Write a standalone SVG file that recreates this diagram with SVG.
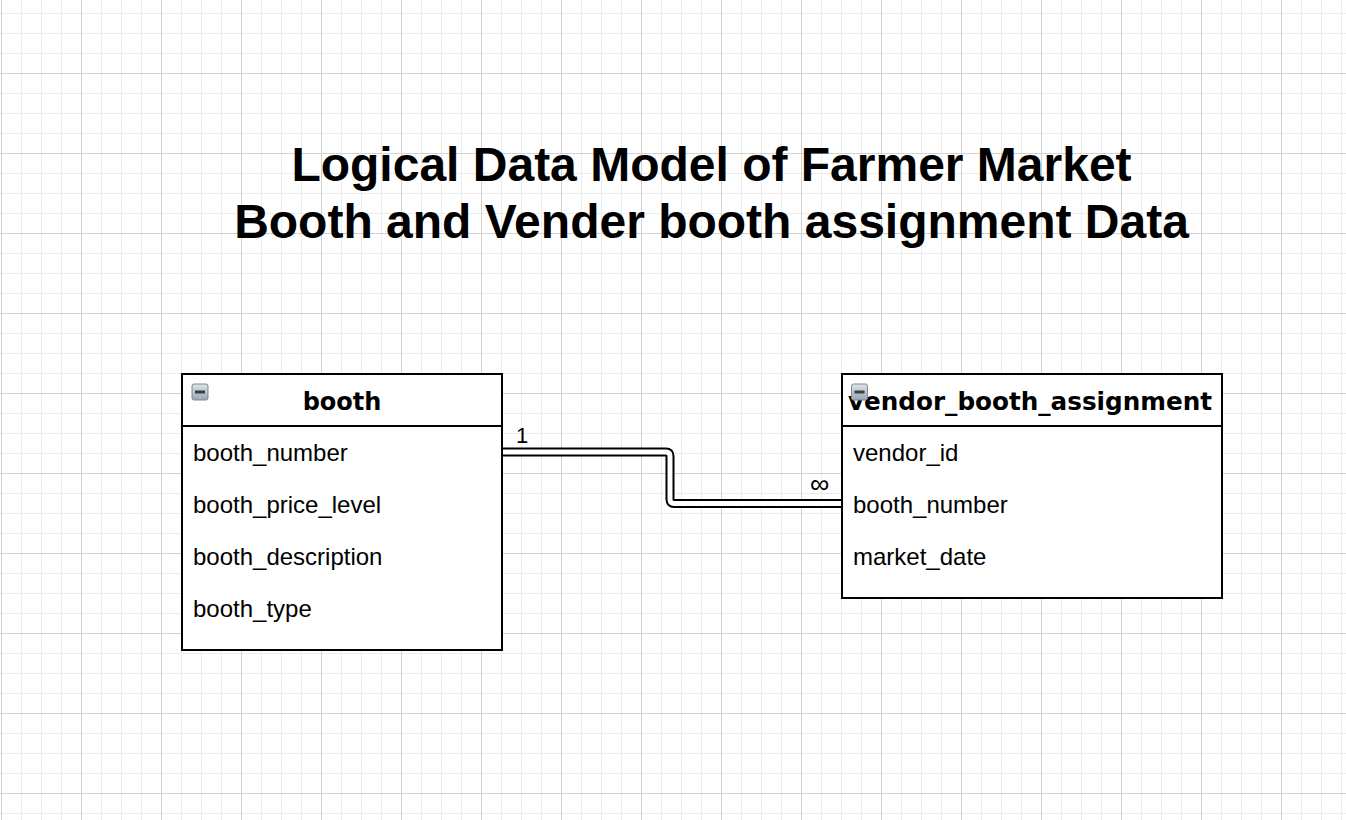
<svg xmlns="http://www.w3.org/2000/svg" width="1346" height="820" viewBox="0 0 1346 820">
<style>
.title{font-family:"Liberation Sans",Arial,sans-serif;font-weight:bold;font-size:48px;fill:#000;text-anchor:middle}
.hdr{font-family:"DejaVu Sans",Verdana,sans-serif;font-weight:bold;font-size:24px;fill:#000;text-anchor:middle}
.fld{font-family:"Liberation Sans",Arial,sans-serif;font-size:24px;fill:#000}
.lbl{font-family:"Liberation Sans",Arial,sans-serif;font-size:22px;fill:#000}
.box{fill:#fff;stroke:#000;stroke-width:2}
.sep{stroke:#000;stroke-width:2}
</style>
<defs>
<pattern id="grid" patternUnits="userSpaceOnUse" x="1" y="-7" width="80" height="80">
<rect x="0" y="20" width="80" height="1" fill="#ececec"/>
<rect x="0" y="40" width="80" height="1" fill="#ececec"/>
<rect x="0" y="60" width="80" height="1" fill="#ececec"/>
<rect x="20" y="0" width="1" height="80" fill="#ececec"/>
<rect x="40" y="0" width="1" height="80" fill="#ececec"/>
<rect x="60" y="0" width="1" height="80" fill="#ececec"/>
<rect x="0" y="0" width="80" height="1" fill="#d2d2d2"/>
<rect x="0" y="0" width="1" height="80" fill="#d2d2d2"/>
</pattern>
<linearGradient id="ig" x1="0" y1="0" x2="0" y2="1">
<stop offset="0" stop-color="#dfe4ea"/>
<stop offset="1" stop-color="#9aa6b3"/>
</linearGradient>
<g id="icon">
<rect x="0.5" y="0.5" width="16" height="16" rx="2" fill="url(#ig)" stroke="#7d8894" stroke-width="1"/>
<rect x="3.5" y="7" width="10" height="3" fill="#3a3f46"/>
</g>
</defs>
<rect width="1346" height="820" fill="#fff"/>
<rect width="1346" height="820" fill="url(#grid)"/>

<g id="title">
<text class="title" x="711.5" y="181">Logical Data Model of Farmer Market</text>
<text class="title" x="711.5" y="238">Booth and Vender booth assignment Data</text>
</g>

<g id="connectors">
<path d="M502 452 H666 Q670 452 670 456 V499.5 Q670 503.5 674 503.5 H842" fill="none" stroke="#000" stroke-width="9"/>
<path d="M502 452 H666 Q670 452 670 456 V499.5 Q670 503.5 674 503.5 H843" fill="none" stroke="#fff" stroke-width="5"/>
<text class="lbl" x="516" y="443">1</text>
<text class="lbl" x="810" y="493" style="font-size:27px">∞</text>
</g>

<g id="booth">
<rect class="box" x="182" y="374" width="320" height="276"/>
<line class="sep" x1="182" y1="426" x2="502" y2="426"/>
<use href="#icon" x="191.5" y="383.5"/>
<text class="hdr" x="342" y="410">booth</text>
<text class="fld" x="193" y="461">booth_number</text>
<text class="fld" x="193" y="513">booth_price_level</text>
<text class="fld" x="193" y="565">booth_description</text>
<text class="fld" x="193" y="617">booth_type</text>
</g>

<g id="vendor_booth_assignment">
<rect class="box" x="842" y="374" width="380" height="224"/>
<line class="sep" x1="842" y1="426" x2="1222" y2="426"/>
<text class="hdr" x="1030" y="410" textLength="364" lengthAdjust="spacingAndGlyphs">vendor_booth_assignment</text>
<use href="#icon" x="851" y="383.5"/>
<text class="fld" x="853" y="461">vendor_id</text>
<text class="fld" x="853" y="513">booth_number</text>
<text class="fld" x="853" y="565">market_date</text>
</g>
</svg>
